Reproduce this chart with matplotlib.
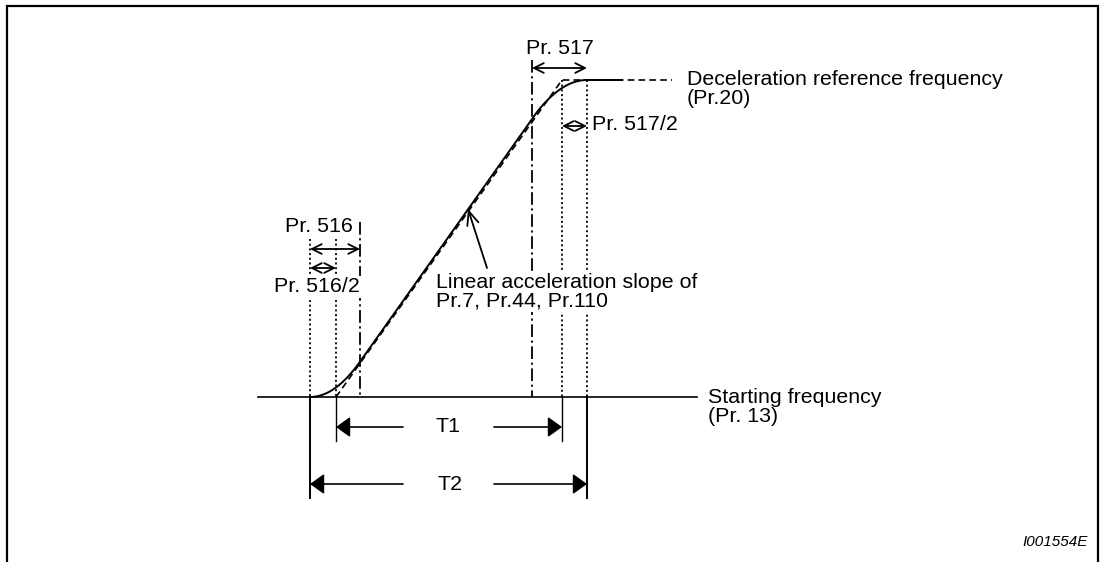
import numpy as np
import matplotlib
matplotlib.use("Agg")
import matplotlib.pyplot as plt

plt.rcParams['font.family'] = ['Liberation Sans', 'DejaVu Sans']

# ---- diagram quantities (time axis / frequency axis, drawing units) ----
t_start = 310          # S-curve start (T2 start)
t_lin_start = 336      # linear ramp start (T1 start)
t_s1_end = 360         # end of Pr.516 S-section
t_s2_start = 532       # start of Pr.517 S-section
t_lin_end = 562        # linear ramp end (T1 end)
t_end = 587            # S-curve end (T2 end)
t_plateau_solid_end = 622
t_plateau_dash_end = 672
f_start = 397          # starting frequency level
f_ref = 80             # deceleration reference frequency level
baseline_span = [258, 697]

labels_T = ["T1", "T2"]
label_starting = "Starting frequency\n(Pr. 13)"
label_ref = "Deceleration reference frequency\n(Pr.20)"
label_slope = "Linear acceleration slope of\nPr.7, Pr.44, Pr.110"
label_516 = "Pr. 516"
label_516_2 = "Pr. 516/2"
label_517 = "Pr. 517"
label_517_2 = "Pr. 517/2"
figure_id = "I001554E"

W, H = 1103, 562
fig = plt.figure(figsize=(W / 100, H / 100), dpi=100)
ax = fig.add_axes([0, 0, 1, 1])
ax.set_xlim(0, W)
ax.set_ylim(H, 0)
ax.axis('off')

FS = 15.4
lw_guide = 1.3
dotted = (0, (1.1, 1.5))
dashdot = (0, (7, 2, 1.2, 2))

# frame
ax.plot([7, 7, 1098, 1098], [H + 5, 6, 6, H + 5], color='black', lw=1.6,
        solid_joinstyle='miter', clip_on=False)

# baseline (starting frequency)
ax.plot(baseline_span, [f_start, f_start], color='black', lw=1.2)

# S-curve: integrate piecewise-linear slope profile
x = np.linspace(t_start, t_plateau_solid_end, 1200)
ramp_up = np.clip((x - t_start) / (t_s1_end - t_start), 0, 1)
ramp_dn = np.clip((t_end - x) / (t_end - t_s2_start), 0, 1)
prof = np.minimum(ramp_up, ramp_dn)
cum = np.concatenate([[0], np.cumsum((prof[1:] + prof[:-1]) / 2 * np.diff(x))])
y_curve = f_start - (f_start - f_ref) * cum / cum[-1]
ax.plot(x, y_curve, color='black', lw=1.4)

# linear (dashed) ramp and reference level
ax.plot([t_lin_start, t_lin_end, t_plateau_dash_end], [f_start, f_ref, f_ref],
        color='black', lw=1.2, linestyle=(0, (4, 2.5)))

# vertical guide lines
top_left = 239
ax.plot([t_start, t_start], [top_left, f_start], color='black', lw=lw_guide, ls=dotted)
ax.plot([t_lin_start, t_lin_start], [top_left, f_start], color='black', lw=lw_guide, ls=dotted)
ax.plot([t_s1_end, t_s1_end], [222, f_start], color='black', lw=lw_guide, ls=dashdot)
ax.plot([t_s2_start, t_s2_start], [60, f_start], color='black', lw=lw_guide, ls=dashdot)
ax.plot([t_lin_end, t_lin_end], [f_ref, f_start], color='black', lw=lw_guide, ls=dotted)
ax.plot([t_end, t_end], [f_ref, f_start], color='black', lw=lw_guide, ls=dotted)

# solid extension lines below baseline for T1/T2
y_T1, y_T2 = 427, 484
ax.plot([t_lin_start, t_lin_start], [f_start, 441], color='black', lw=1.0)
ax.plot([t_lin_end, t_lin_end], [f_start, 441], color='black', lw=1.0)
ax.plot([t_start, t_start], [f_start, 498], color='black', lw=1.4)
ax.plot([t_end, t_end], [f_start, 498], color='black', lw=1.4)

# double arrows (open heads)
def dbl(x0, x1, y):
    ax.annotate('', xy=(x1, y), xytext=(x0, y),
                arrowprops=dict(arrowstyle='<->,head_length=0.5,head_width=0.25',
                                lw=1.3, color='black', shrinkA=0, shrinkB=0,
                                mutation_scale=14))

dbl(t_start, t_s1_end, 249)
dbl(t_start, t_lin_start, 268)
dbl(t_s2_start, t_end, 68)
dbl(t_lin_end, t_end, 126)

# T1 / T2 dimension arrows (filled heads)
def dim(x0, x1, y, label, xc, gap_l, gap_r):
    ap = dict(arrowstyle='-|>,head_length=0.86,head_width=0.62', lw=1.2,
              color='black', fc='black', shrinkA=0, shrinkB=0, mutation_scale=10)
    ax.annotate('', xy=(x0, y), xytext=(gap_l, y), arrowprops=ap)
    ax.annotate('', xy=(x1, y), xytext=(gap_r, y), arrowprops=ap)
    ax.text(xc, y, label, ha='center', va='center', fontsize=FS)

dim(t_lin_start, t_lin_end, y_T1, labels_T[0], 448, 403, 494)
dim(t_start, t_end, y_T2, labels_T[1], 450, 403, 494)

# slope pointer arrow
ax.annotate('', xy=(468, 209), xytext=(487, 268),
            arrowprops=dict(arrowstyle='->,head_length=0.7,head_width=0.3', lw=1.3,
                            color='black', shrinkA=0, shrinkB=0, mutation_scale=14))

# texts
white = dict(facecolor='white', edgecolor='none', pad=1.0)
ax.text(353, 227, label_516, ha='right', va='center', fontsize=FS)
ax.text(360, 287, label_516_2, ha='right', va='center', fontsize=FS, bbox=white)
ax.text(560, 49, label_517, ha='center', va='center', fontsize=FS)
ax.text(592, 124, label_517_2, ha='left', va='center', fontsize=FS)
ax.text(687, 89, label_ref, ha='left', va='center', fontsize=FS, linespacing=0.95)
ax.text(436, 292, label_slope, ha='left', va='center', fontsize=FS, linespacing=0.95,
        bbox=white)
ax.text(708, 407, label_starting, ha='left', va='center', fontsize=FS, linespacing=0.95)
ax.text(1088, 542, figure_id, ha='right', va='center', fontsize=11, style='italic')

fig.savefig('out.png', dpi=100)
